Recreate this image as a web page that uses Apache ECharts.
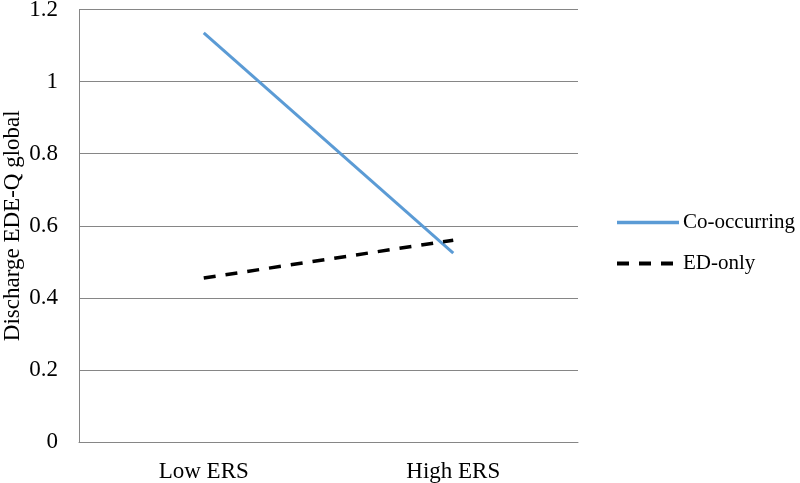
<!DOCTYPE html>
<html>
<head>
<meta charset="utf-8">
<script src="https://cdn.jsdelivr.net/npm/echarts@6/dist/echarts.min.js"></script>
<style>
  html, body { margin: 0; padding: 0; background: #fff; }
  #chart { width: 800px; height: 483px; }
</style>
</head>
<body>
<div id="chart"></div>
<script>
// data
var categories = ['Low ERS', 'High ERS'];
var coOccurring = [1.135, 0.524];
var edOnly = [0.455, 0.56];
var yTicks = [0, 0.2, 0.4, 0.6, 0.8, 1, 1.2];

var chartDom = document.getElementById('chart');
var myChart = echarts.init(chartDom);
var font = '"Liberation Serif", "Times New Roman", serif';
var option;

option = {
  animation: false,
  grid: {
    left: 79,
    right: 222,
    top: 9.5,
    bottom: 41,
    containLabel: false,
    outerBoundsMode: 'none'
  },
  legend: {
    orient: 'vertical',
    left: 615,
    top: 212,
    padding: 0,
    itemWidth: 62,
    itemHeight: 20,
    itemGap: 20,
    itemStyle: { opacity: 0 },
    textStyle: { fontFamily: font, fontSize: 21, color: '#000', padding: [0, 0, 0, -1] },
    data: [
      { name: 'Co-occurring', lineStyle: { width: 3.5 } },
      { name: 'ED-only', lineStyle: { width: 4 } }
    ]
  },
  xAxis: {
    type: 'category',
    data: categories,
    boundaryGap: true,
    axisLine: { lineStyle: { color: '#868686', width: 1 } },
    axisTick: { show: false },
    axisLabel: { fontFamily: font, fontSize: 23, color: '#000', margin: 18 }
  },
  yAxis: {
    type: 'value',
    min: yTicks[0],
    max: yTicks[yTicks.length - 1],
    interval: 0.2,
    name: 'Discharge EDE-Q global',
    nameLocation: 'middle',
    nameGap: 55,
    nameMoveOverlap: false,
    nameTextStyle: { fontFamily: font, fontSize: 23, color: '#000' },
    axisLine: { show: true, lineStyle: { color: '#868686', width: 1 } },
    axisTick: { show: false },
    splitLine: { lineStyle: { color: '#868686', width: 1 } },
    axisLabel: {
      fontFamily: font, fontSize: 23, color: '#000', margin: 21,
      formatter: function (v) { return String(Math.round(v * 10) / 10); }
    }
  },
  series: [
    {
      name: 'Co-occurring',
      type: 'line',
      data: coOccurring,
      symbol: 'none',
      lineStyle: { color: '#5B9BD5', width: 3 },
      itemStyle: { color: '#5B9BD5' }
    },
    {
      name: 'ED-only',
      type: 'line',
      data: edOnly,
      symbol: 'none',
      lineStyle: { color: '#000', width: 3.5, type: [12, 10] },
      itemStyle: { color: '#000' }
    }
  ]
};

option && myChart.setOption(option);
</script>
</body>
</html>
